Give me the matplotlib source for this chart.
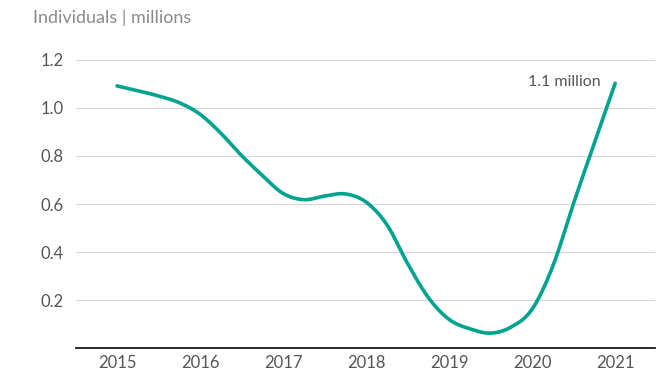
import numpy as np
import matplotlib.pyplot as plt

# Quarterly readings (individuals, millions), 2015 Q1 .. 2021 Q1
quarters = np.arange(2015, 2021.01, 0.25)
individuals = [1.092, 1.072, 1.050, 1.022, 0.974, 0.895, 0.802, 0.719,
               0.644, 0.618, 0.633, 0.642, 0.608, 0.514, 0.352, 0.210,
               0.119, 0.080, 0.062, 0.088, 0.162, 0.342, 0.604, 0.855,
               1.103]

years = [2015, 2016, 2017, 2018, 2019, 2020, 2021]
y_ticks = [0.2, 0.4, 0.6, 0.8, 1.0, 1.2]
unit_label = "Individuals | millions"
end_label = "1.1 million"


def catmull_rom(x, y, n=20):
    # smooth curve through the points for drawing
    x = np.asarray(x, float)
    y = np.asarray(y, float)
    px = np.concatenate([[2 * x[0] - x[1]], x, [2 * x[-1] - x[-2]]])
    py = np.concatenate([[2 * y[0] - y[1]], y, [2 * y[-1] - y[-2]]])
    xs, ys = [], []
    t = np.linspace(0, 1, n, endpoint=False)
    for i in range(1, len(px) - 2):
        for p, out in ((px, xs), (py, ys)):
            p0, p1, p2, p3 = p[i - 1], p[i], p[i + 1], p[i + 2]
            out.append(0.5 * (2 * p1 + (-p0 + p2) * t
                              + (2 * p0 - 5 * p1 + 4 * p2 - p3) * t ** 2
                              + (-p0 + 3 * p1 - 3 * p2 + p3) * t ** 3))
    xs.append([x[-1]])
    ys.append([y[-1]])
    return np.concatenate(xs), np.concatenate(ys)


plt.rcParams['font.family'] = ['Lato', 'DejaVu Sans']

fig = plt.figure(figsize=(6.71, 3.74), dpi=100)
ax = fig.add_axes([0.1133, 0.0695, 0.8629, 0.7765])

sx, sy = catmull_rom(quarters, individuals)
ax.plot(sx, sy, color='#00a38f', linewidth=2.6, solid_capstyle='round',
        clip_on=False, zorder=3)

ax.set_xlim(2014.506, 2021.48)
ax.set_ylim(0, 1.21)
ax.set_xticks(years)
ax.set_xticklabels([str(y) for y in years])
ax.set_yticks(y_ticks)
ax.set_yticklabels([f"{v:.1f}" for v in y_ticks])

ax.grid(axis='y', color='#d4d4d4', linewidth=0.8)
ax.set_axisbelow(True)
for side in ['top', 'right', 'left']:
    ax.spines[side].set_visible(False)
ax.spines['bottom'].set_color('#1a1a1a')
ax.spines['bottom'].set_linewidth(1.3)

ax.tick_params(axis='both', length=0, labelsize=12, labelcolor='#555555')
ax.tick_params(axis='y', pad=9)
ax.tick_params(axis='x', pad=5)

ax.text(2020.82, 1.108, end_label, ha='right', va='center',
        fontsize=11.5, color='#555555')

fig.text(33 / 671, 1 - 18 / 374, unit_label, ha='left', va='center',
         fontsize=13, color='#8a8a8a')

plt.savefig('out.png', dpi=100)
